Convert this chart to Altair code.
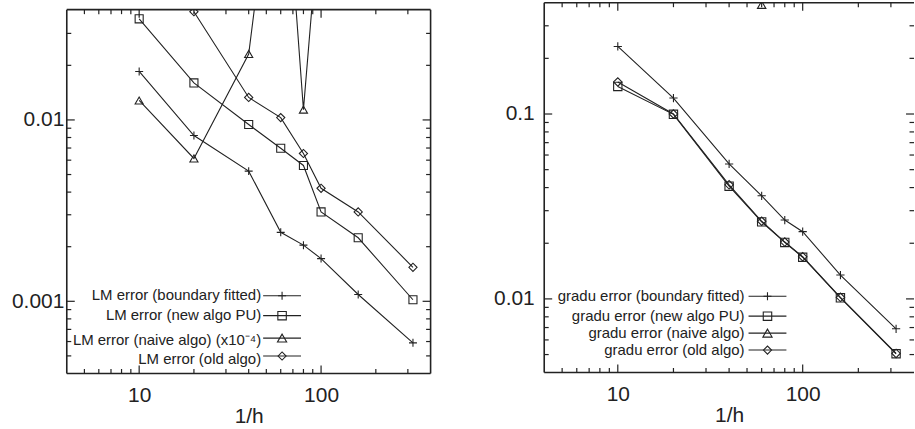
import altair as alt
import pandas as pd

# ---------------- data ----------------
x_vals = [10, 20, 40, 60, 80, 100, 160, 320]

# left panel: LM error
lm_boundary = [0.0185, 0.0082, 0.00522, 0.0024, 0.00204, 0.00172, 0.00109, 0.00059]
lm_newpu = [0.0361, 0.0160, 0.00943, 0.00698, 0.00561, 0.00311, 0.00224, 0.00102]
lm_naive_x = [10, 20, 40, 60, 80, 100]
lm_naive = [0.0128, 0.00613, 0.0231, 0.58, 0.0114, 0.17]
lm_old_x = [20, 40, 60, 80, 100, 160, 320]
lm_old = [0.0395, 0.0133, 0.0103, 0.00653, 0.0042, 0.00311, 0.00154]

# right panel: gradu error
gr_boundary = [0.232, 0.122, 0.0537, 0.0361, 0.0267, 0.0231, 0.01346, 0.00689]
gr_newpu = [0.141, 0.0996, 0.0407, 0.0261, 0.0202, 0.0168, 0.01014, 0.00505]
gr_naive_x = [60]
gr_naive = [0.39]
gr_old = [0.149, 0.1, 0.0414, 0.0263, 0.0203, 0.0169, 0.0102, 0.00507]

left_labels = ["LM error (boundary fitted)", "LM error (new algo PU)",
               "LM error (naive algo) (x10\u207b\u2074)", "LM error (old algo)"]
right_labels = ["gradu error (boundary fitted)", "gradu error (new algo PU)",
                "gradu error (naive algo)", "gradu error (old algo)"]

x_major = [10, 100]
x_minor = [5, 6, 7, 8, 9, 20, 30, 40, 50, 60, 70, 80, 90, 200, 300]
left_y_major = [0.001, 0.01]
left_y_minor = [0.0005, 0.0006, 0.0007, 0.0008, 0.0009,
                0.002, 0.003, 0.004, 0.005, 0.006, 0.007, 0.008, 0.009, 0.02, 0.03]
right_y_major = [0.01, 0.1]
right_y_minor = [0.005, 0.006, 0.007, 0.008, 0.009,
                 0.02, 0.03, 0.04, 0.05, 0.06, 0.07, 0.08, 0.09, 0.2, 0.3]

# ---------------- style ----------------
FONT = "Liberation Sans"
INK = "#222222"
PLUS = "M-1,0L1,0M0,-1L0,1"
SHAPES = [PLUS, "square", "triangle-up", "diamond"]
SIZES = [64, 72, 85, 66]
MAJ, MIN = 8, 4.5
FRAME_W = 1.6


def long_df(labels, series):
    rows = []
    for lbl, (xs, ys) in zip(labels, series):
        for xv, yv in zip(xs, ys):
            rows.append({"x": xv, "y": yv, "series": lbl})
    return pd.DataFrame(rows)


def panel(df, labels, ydom, W, H, top, y_major, y_minor, yext, ypad, leg, right_frame):
    xscale = alt.Scale(type="log", domain=[4, 400], nice=False)
    yscale = alt.Scale(type="log", domain=ydom, nice=False)
    xaxis = alt.Axis(values=x_major, format="d", ticks=False, tickSize=0, domain=False,
                     grid=False, labelFontSize=21, labelFont=FONT, labelColor=INK,
                     labelPadding=11, title="1/h", titleFontSize=21, titleFont=FONT,
                     titleFontWeight="normal", titleColor=INK, titlePadding=0)
    yaxis = alt.Axis(values=y_major, format=".3~f", ticks=False, tickSize=0, domain=False,
                     grid=False, labelFontSize=21, labelFont=FONT, labelColor=INK,
                     labelPadding=ypad, minExtent=yext, maxExtent=yext, title=None)
    X = alt.X("x:Q", scale=xscale, axis=xaxis)
    Y = alt.Y("y:Q", scale=yscale, axis=yaxis)

    layers = []
    layers.append(alt.Chart(df).mark_line(color=INK, strokeWidth=1.1, clip=True).encode(
        x=X, y=Y, detail="series:N"))
    layers.append(alt.Chart(df).mark_point(filled=False, color=INK, strokeWidth=1.1,
                                           opacity=1, clip=True).encode(
        x=X, y=Y,
        shape=alt.Shape("series:N", scale=alt.Scale(domain=labels, range=SHAPES), legend=None),
        size=alt.Size("series:N", scale=alt.Scale(domain=labels, range=SIZES), legend=None)))

    one = pd.DataFrame({"k": [0]})
    if top > 0:
        # mask the strip above the frame so data is clipped at the frame
        layers.append(alt.Chart(one).mark_rect(color="white").encode(
            x=alt.value(-2), x2=alt.value(W + 2), y=alt.value(-2), y2=alt.value(top)))

    # frame
    layers.append(alt.Chart(one).mark_rule(color=INK, strokeWidth=FRAME_W).encode(
        x=alt.value(0), x2=alt.value(W), y=alt.value(top)))
    layers.append(alt.Chart(one).mark_rule(color=INK, strokeWidth=FRAME_W).encode(
        x=alt.value(0), x2=alt.value(W), y=alt.value(H)))
    layers.append(alt.Chart(one).mark_rule(color=INK, strokeWidth=FRAME_W).encode(
        x=alt.value(0), y=alt.value(top), y2=alt.value(H)))
    if right_frame:
        layers.append(alt.Chart(one).mark_rule(color=INK, strokeWidth=FRAME_W).encode(
            x=alt.value(W), y=alt.value(top), y2=alt.value(H)))

    # inward ticks on all four sides
    for vals, ln in ((x_major, MAJ), (x_minor, MIN)):
        tdf = pd.DataFrame({"x": vals})
        layers.append(alt.Chart(tdf).mark_rule(color=INK, strokeWidth=1.2).encode(
            x=X, y=alt.value(H), y2=alt.value(H - ln)))
        layers.append(alt.Chart(tdf).mark_rule(color=INK, strokeWidth=1.2).encode(
            x=X, y=alt.value(top), y2=alt.value(top + ln)))
    for vals, ln in ((y_major, MAJ), (y_minor, MIN)):
        tdf = pd.DataFrame({"y": vals})
        layers.append(alt.Chart(tdf).mark_rule(color=INK, strokeWidth=1.2).encode(
            y=Y, x=alt.value(0), x2=alt.value(ln)))
        layers.append(alt.Chart(tdf).mark_rule(color=INK, strokeWidth=1.2).encode(
            y=Y, x=alt.value(W - ln), x2=alt.value(W)))

    # gnuplot-style key: text, then sample line with marker
    tx, lx1, lx2, mx, line_ys, text_ys = leg
    for i, lbl in enumerate(labels):
        ldf = pd.DataFrame({"label": [lbl]})
        layers.append(alt.Chart(ldf).mark_text(align="right", baseline="middle", font=FONT,
                                               fontSize=15, color=INK).encode(
            text="label:N", x=alt.value(tx), y=alt.value(text_ys[i])))
        layers.append(alt.Chart(ldf).mark_rule(color=INK, strokeWidth=1.1).encode(
            x=alt.value(lx1), x2=alt.value(lx2), y=alt.value(line_ys[i])))
        layers.append(alt.Chart(ldf).mark_point(shape=SHAPES[i], size=SIZES[i], filled=False,
                                                color=INK, strokeWidth=1.1, opacity=1).encode(
            x=alt.value(mx), y=alt.value(line_ys[i])))

    return alt.layer(*layers).properties(width=W, height=H)


left_df = long_df(left_labels, [(x_vals, lm_boundary), (x_vals, lm_newpu),
                                (lm_naive_x, lm_naive), (lm_old_x, lm_old)])
right_df = long_df(right_labels, [(x_vals, gr_boundary), (x_vals, gr_newpu),
                                  (gr_naive_x, gr_naive), (x_vals, gr_old)])

# left frame top sits 7 px below the right one; the scale spans the full 372 px
left = panel(left_df, left_labels, [0.0004, 0.0443], 365, 372, 7, left_y_major, left_y_minor,
             67, 3,
             (195, 197, 235, 216, [294, 314, 336.5, 354.5], [293.5, 313.5, 338.5, 357.5]),
             right_frame=True)
right = panel(right_df, right_labels, [0.004, 0.4], 371, 371, 0, right_y_major, right_y_minor,
              60, 10,
              (201, 205, 243, 224, [294.5, 314.5, 331.5, 348.5], [294.5, 314.5, 331.5, 348.5]),
              right_frame=False)

chart = alt.hconcat(left, right, spacing=52).properties(
    padding={"left": 0, "top": 0, "right": 0, "bottom": 0}
).configure_view(stroke="transparent", strokeWidth=0)

chart.save("out.html", embed_options={"renderer": "svg", "actions": False})
